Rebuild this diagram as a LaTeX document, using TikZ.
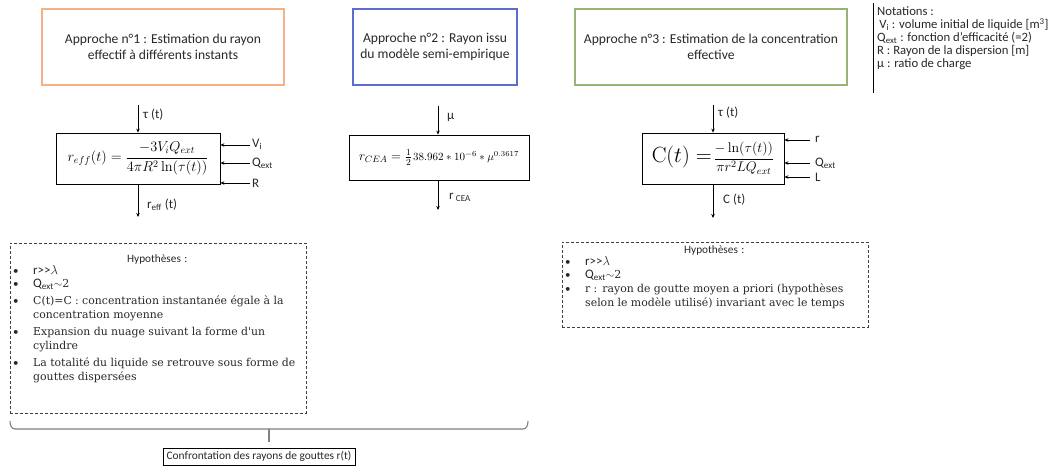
\RequirePackage{fix-cm}
\documentclass[tikz,border=0pt]{standalone}
\usepackage{amsmath}
\usepackage[no-math]{fontspec}
\setmainfont{Carlito}
\newfontfamily\serifh{DejaVu Serif}
\usetikzlibrary{arrows.meta}
\definecolor{orangeb}{RGB}{244,177,131}
\definecolor{blueb}{RGB}{92,108,208}
\definecolor{greenb}{RGB}{150,180,120}
\definecolor{txt}{RGB}{40,40,40}
\newcommand{\hitem}[1]{\par\noindent\hangindent=23pt\hangafter=1\makebox[23pt][l]{\hspace{3pt}{\normalfont\fontsize{11}{12}\selectfont•}}#1\par}
\newcommand{\sansit}[1]{{\normalfont\fontsize{13}{12}\selectfont #1}}
\begin{document}
\begin{tikzpicture}[x=1pt,y=-1pt,
  appbox/.style={draw=#1, line width=1.3pt, minimum height=76pt, inner sep=0pt, align=center, text=txt, font=\fontsize{13.6}{15.5}\selectfont},
  fbox/.style={draw, line width=0.8pt, inner sep=0pt},
  arr/.style={-{Stealth[length=4pt,width=3.5pt]}, line width=0.7pt},
  lab/.style={font=\fontsize{13}{14}\selectfont, inner sep=0pt, anchor=west, text=txt},
  hbox/.style={draw=black!75, dashed, dash pattern=on 3pt off 2pt, line width=0.7pt, inner sep=0pt},
  htext/.style={anchor=north west, inner sep=0pt, text width=294pt, align=left, text=txt}
]
\useasboundingbox (0,0) rectangle (1062,470);

% approach boxes
\node[appbox=orangeb, minimum width=242pt] (a1) at (163,47) {Approche n°1 : Estimation du rayon\\effectif à différents instants};
\node[appbox=blueb, minimum width=164pt] (a2) at (435,47) {Approche n°2 : Rayon issu\\du modèle semi-empirique};
\node[appbox=greenb, minimum width=272pt] (a3) at (711,47) {Approche n°3 : Estimation de la concentration\\effective};

% notations
\coordinate (ns) at (873,3);
\coordinate (ne) at (873,93);
\draw[line width=0.7pt] (ns) -- (ne);
\node[anchor=north west, inner sep=0pt, align=left, text=txt, font=\fontsize{12.7}{12.9}\selectfont] (nota) at (877,7)
 {Notations :\\
  \,V\textsubscript{i} : volume initial de liquide [m\textsuperscript{3}]\\
  Q\textsubscript{ext} : fonction d’efficacité (=2)\\
  R : Rayon de la dispersion [m]\\
  μ : ratio de charge};

% formula boxes
\node[fbox, minimum width=164pt, minimum height=51pt] (f1) at (138,158.5)
 {\fontsize{14.3}{16}\selectfont $r_{eff}(t)=\dfrac{-3V_iQ_{ext}}{4\pi R^2\ln(\tau(t))}$};
\node[fbox, minimum width=180pt, minimum height=45pt] (f2) at (439,157.5)
 {\fontsize{13.2}{14}\selectfont $r_{CEA}=\tfrac{1}{2}$\hspace{1.2pt}{\fontsize{11}{13}\selectfont$38.962\ast 10^{-6}\ast\mu^{0.3617}$}};
\node[fbox, minimum width=142pt, minimum height=51pt] (f3) at (713,158.5)
 {{\fontsize{22}{24}\selectfont $\mathrm{C}(t)=$}\,{\fontsize{14}{16}\selectfont $\dfrac{-\ln(\tau(t))}{\pi r^2LQ_{ext}}$}};

% approach 1 arrows
\coordinate (i1) at (138,105);
\coordinate (o1) at (138,217);
\draw[arr] (i1) -- (f1.north);
\draw[arr] (f1.south) -- (o1);
\node[lab] (li1) at (143,115) {τ (t)};
\node[lab] (lo1) at (147,205) {r\textsubscript{eff} (t)};
\coordinate (v1) at (250,145);
\coordinate (q1) at (250,163);
\coordinate (r1) at (250,183);
\draw[arr] (v1) -- (v1 -| f1.east);
\draw[arr] (q1) -- (q1 -| f1.east);
\draw[arr] (r1) -- (r1 -| f1.east);
\node[lab] (lv1) at (252,144) {V\textsubscript{i}};
\node[lab] (lq1) at (252,163) {Q\textsubscript{ext}};
\node[lab] (lr1) at (252,183) {R};

% approach 2 arrows
\coordinate (i2) at (438,106);
\coordinate (o2) at (438,210);
\draw[arr] (i2) -- (i2 |- f2.north);
\draw[arr] (o2 |- f2.south) -- (o2);
\node[lab] (li2) at (447,117) {μ};
\node[lab] (lo2) at (449,197) {r\,\textsubscript{CEA}};

% approach 3 arrows
\coordinate (i3) at (713,105);
\coordinate (o3) at (713,218);
\draw[arr] (i3) -- (f3.north);
\draw[arr] (f3.south) -- (o3);
\node[lab] (li3) at (718,113) {τ (t)};
\node[lab] (lo3) at (723,200) {C (t)};
\coordinate (v3) at (810,140);
\coordinate (q3) at (810,163);
\coordinate (r3) at (810,177);
\draw[arr] (v3) -- (v3 -| f3.east);
\draw[arr] (q3) -- (q3 -| f3.east);
\draw[arr] (r3) -- (r3 -| f3.east);
\node[lab] (lv3) at (815,139) {r};
\node[lab] (lq3) at (815,163) {Q\textsubscript{ext}};
\node[lab] (lr3) at (815,177) {L};

% hypotheses boxes
\node[hbox, minimum width=296pt, minimum height=170pt] (h1) at (158,328) {};
\node[htext] (h1t) at (10,254) {%
 {\centering\fontsize{11.3}{13}\selectfont Hypothèses :\par}
 \fontsize{13}{12.8}\selectfont
 \hitem{\sansit{r>\kern0pt>}$\lambda$}
 \hitem{\sansit{Q\textsubscript{ext}}{\serifh\fontsize{11}{12}\selectfont$\sim$2}}
 \serifh\fontsize{10.9}{14}\selectfont\setlength{\parskip}{3pt}
 \hitem{C(t)=C : concentration instantanée égale à la\newline concentration moyenne}
 \hitem{Expansion du nuage suivant la forme d'un\newline cylindre}
 \hitem{La totalité du liquide se retrouve sous forme de\newline gouttes dispersées}};

\node[hbox, minimum width=306pt, minimum height=85pt] (h2) at (715,284.5) {};
\node[htext, text width=304pt] (h2t) at (562,245) {%
 {\centering\fontsize{11.3}{12.5}\selectfont Hypothèses :\par}
 \fontsize{13}{12.6}\selectfont
 \hitem{\sansit{r>\kern0pt>}$\lambda$}
 \hitem{\sansit{Q\textsubscript{ext}}{\serifh\fontsize{11}{12}\selectfont$\sim$2}}
 \serifh\fontsize{10.9}{14}\selectfont
 \hitem{r : rayon de goutte moyen a priori (hypothèses\newline selon le modèle utilisé) invariant avec le temps}};

% brace
\coordinate (bl) at (10,421);
\coordinate (br) at (528,421);
\coordinate (bm) at (269,429);
\coordinate (bt) at (269,442);
\draw[gray, line width=1.1pt] (bl) to[out=-90,in=180] (15,429) -- (523,429) to[out=0,in=-90] (br);
\draw[gray, line width=1.1pt] (bm) -- (bt);

% confrontation
\node[draw, line width=0.6pt, minimum width=192pt, minimum height=17pt, inner sep=0pt, text=txt, font=\fontsize{11.4}{12}\selectfont] (conf) at (259,456.5) {Confrontation des rayons de gouttes r(t)};
\end{tikzpicture}
\end{document}
